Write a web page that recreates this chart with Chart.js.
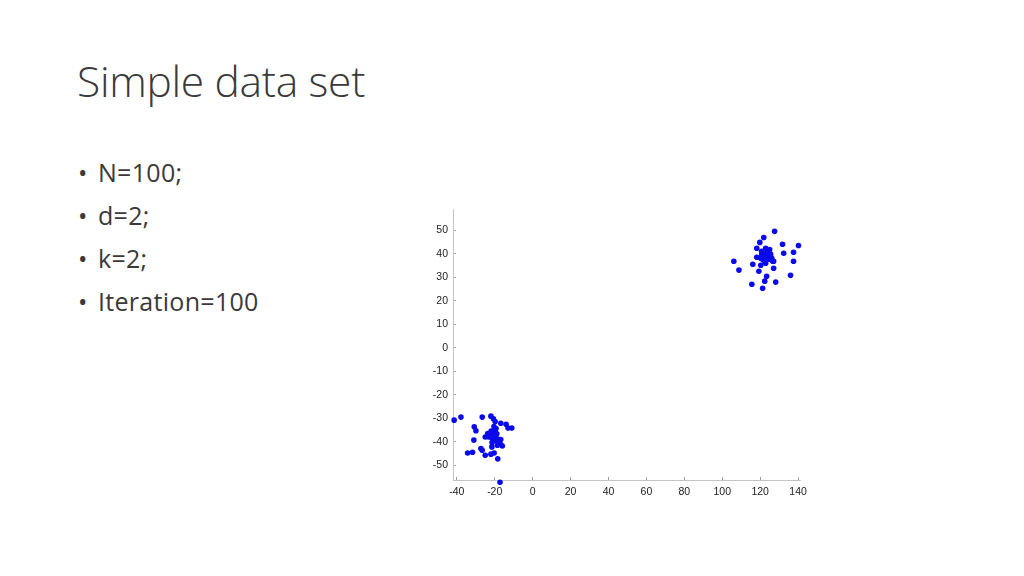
<!DOCTYPE html>
<html>
<head>
<meta charset="utf-8">
<script src="https://cdn.jsdelivr.net/npm/chart.js@4"></script>
<style>
  html, body { margin: 0; padding: 0; background: #fff; }
  body { width: 1024px; height: 576px; position: relative; overflow: hidden; font-family: "Open Sans", Lato, sans-serif; color: #3a3a3a; }
  h1 { position: absolute; left: 77px; top: 56px; margin: 0; font-weight: 300; font-size: 42.5px; line-height: 50px; letter-spacing: -0.3px; }
  ul { position: absolute; left: 78px; top: 155px; margin: 0; padding: 0; list-style: none; font-size: 25px; letter-spacing: 0.3px; }
  ul li { height: 43px; line-height: 34px; }
  ul li:before { content: "\2022"; display: inline-block; width: 20px; }
  #plot { position: absolute; left: 400px; top: 195px; }
</style>
</head>
<body>
<h1>Simple data set</h1>
<ul>
  <li>N=100;</li>
  <li>d=2;</li>
  <li>k=2;</li>
  <li>Iteration=100</li>
</ul>
<canvas id="plot" width="420" height="320"></canvas>
<script>
// cluster 1 (upper right)
const upperX = [127.6, 121.9, 119.8, 131.8, 140.2, 118.2, 122.9, 125.0, 120.8, 123.4, 125.5, 122.4, 120.8, 126.1, 124.5,
  121.9, 127.1, 124.0, 120.3, 122.9, 132.4, 137.6, 118.2, 106.1, 137.6, 116.1, 120.3, 126.6, 108.8, 119.3,
  127.1, 123.4, 136.0, 122.4, 128.2, 115.6, 121.3, 123.9, 122.0, 125.2, 121.5];
const upperY = [49.6, 47.0, 44.9, 44.1, 43.6, 42.4, 42.4, 41.9, 41.1, 40.3, 39.8, 39.0, 39.8, 38.1, 37.7,
  37.3, 36.9, 39.4, 38.1, 36.0, 40.3, 40.7, 38.6, 36.9, 36.9, 35.6, 35.2, 36.9, 33.1, 32.6,
  33.9, 30.5, 30.9, 28.4, 28.0, 27.1, 25.4, 40.8, 38.6, 40.0, 37.6];

// cluster 2 (lower left)
const lowerX = [-41.4, -37.8, -26.6, -22.0, -20.7, -19.8, -16.8, -14.0, -13.0, -11.0, -30.8, -29.9, -19.8, -21.0,
  -22.4, -18.9, -20.3, -21.5, -23.3, -25.0, -18.6, -19.3, -16.8, -16.8, -31.0, -27.3, -26.6, -21.5, -18.6,
  -16.0, -20.3, -34.3, -31.7, -25.0, -22.0, -18.4, -17.2, -21.9, -20.4, -23.7, -18.1, -19.9, -21.4];
const lowerY = [-30.8, -29.5, -29.5, -29.1, -30.2, -31.4, -32.1, -32.6, -34.2, -34.2, -33.6, -35.3, -35.2, -36.1,
  -37.0, -36.6, -37.6, -38.4, -38.0, -38.0, -38.7, -34.4, -39.1, -41.2, -39.3, -42.9, -43.6, -42.2, -41.5,
  -41.8, -44.8, -44.8, -44.5, -45.8, -45.3, -47.3, -57.3, -35.5, -33.5, -36.5, -40.0, -39.5, -40.3];

const xTicks = [-40, -20, 0, 20, 40, 60, 80, 100, 120, 140];
const yTicks = [-50, -40, -30, -20, -10, 0, 10, 20, 30, 40, 50];

const points = [];
upperX.forEach((x, i) => points.push({ x: x, y: upperY[i] }));
lowerX.forEach((x, i) => points.push({ x: x, y: lowerY[i] }));

const tickFont = { family: '"Liberation Sans", Arial, sans-serif', size: 10.5 };

new Chart(document.getElementById('plot'), {
    type: 'scatter',
    data: {
        datasets: [{
            data: points,
            backgroundColor: 'rgb(10,10,235)',
            borderWidth: 0,
            pointRadius: 2.8,
            clip: false
        }]
    },
    options: {
        responsive: false,
        devicePixelRatio: 1,
        animation: false,
        layout: { padding: { top: 12, right: 20, left: 0, bottom: 0 } },
        plugins: { legend: { display: false }, tooltip: { enabled: false } },
        scales: {
            x: {
                type: 'linear',
                min: -42,
                max: 141,
                afterBuildTicks: s => { s.ticks = xTicks.map(v => ({ value: v })); },
                afterFit: s => { s.height = 35; },
                ticks: { font: tickFont, color: '#222', padding: 9, maxRotation: 0, autoSkip: false },
                grid: { drawOnChartArea: false, tickLength: -3, color: '#888', lineWidth: 0.8 },
                border: { color: '#c4c4c4', width: 1 }
            },
            y: {
                type: 'linear',
                min: -56.3,
                max: 59,
                afterBuildTicks: s => { s.ticks = yTicks.map(v => ({ value: v })); },
                afterFit: s => { s.width = 53; },
                ticks: { font: tickFont, color: '#222', padding: 8, autoSkip: false },
                grid: { drawOnChartArea: false, tickLength: -3, color: '#888', lineWidth: 0.8 },
                border: { color: '#c4c4c4', width: 1 }
            }
        }
    }
});
</script>
</body>
</html>
